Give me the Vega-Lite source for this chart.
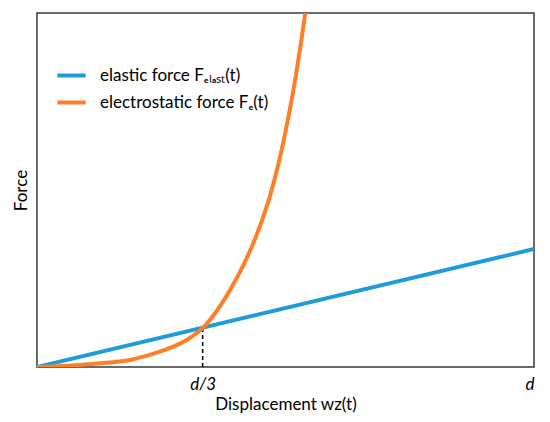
{
  "$schema": "https://vega.github.io/schema/vega-lite/v6.json",
  "width": 497,
  "height": 354,
  "autosize": "none",
  "padding": {"left": 37, "top": 13, "right": 16, "bottom": 55},
  "background": "white",
  "config": {
    "font": "Lato",
    "view": {"stroke": "#3a3a3a", "strokeWidth": 1.5}
  },
  "datasets": {
    "curves": [
      {"x": 0, "y": 0, "series": "elastic force Fₑₗₐₛₜ(t)"},
      {"x": 1, "y": 0.3333, "series": "elastic force Fₑₗₐₛₜ(t)"},
      {"x": 0, "y": 0, "series": "electrostatic force Fₑ(t)"},
      {"x": 0.052, "y": 0.003, "series": "electrostatic force Fₑ(t)"},
      {"x": 0.121, "y": 0.010, "series": "electrostatic force Fₑ(t)"},
      {"x": 0.187, "y": 0.020, "series": "electrostatic force Fₑ(t)"},
      {"x": 0.233, "y": 0.037, "series": "electrostatic force Fₑ(t)"},
      {"x": 0.268, "y": 0.054, "series": "electrostatic force Fₑ(t)"},
      {"x": 0.302, "y": 0.077, "series": "electrostatic force Fₑ(t)"},
      {"x": 0.334, "y": 0.111, "series": "electrostatic force Fₑ(t)"},
      {"x": 0.362, "y": 0.159, "series": "electrostatic force Fₑ(t)"},
      {"x": 0.388, "y": 0.216, "series": "electrostatic force Fₑ(t)"},
      {"x": 0.414, "y": 0.284, "series": "electrostatic force Fₑ(t)"},
      {"x": 0.435, "y": 0.349, "series": "electrostatic force Fₑ(t)"},
      {"x": 0.455, "y": 0.423, "series": "electrostatic force Fₑ(t)"},
      {"x": 0.470, "y": 0.489, "series": "electrostatic force Fₑ(t)"},
      {"x": 0.485, "y": 0.569, "series": "electrostatic force Fₑ(t)"},
      {"x": 0.500, "y": 0.664, "series": "electrostatic force Fₑ(t)"},
      {"x": 0.515, "y": 0.775, "series": "electrostatic force Fₑ(t)"},
      {"x": 0.530, "y": 0.905, "series": "electrostatic force Fₑ(t)"},
      {"x": 0.540, "y": 1.001, "series": "electrostatic force Fₑ(t)"},
      {"x": 0.545, "y": 1.05, "series": "electrostatic force Fₑ(t)"}
    ],
    "marker": [{"x": 0.3333, "y": 0, "y2": 0.1111}]
  },
  "layer": [
    {
      "data": {"name": "marker"},
      "mark": {"type": "rule", "color": "black", "strokeWidth": 1.5, "strokeDash": [4, 3]},
      "encoding": {
        "x": {"field": "x", "type": "quantitative", "scale": {"domain": [0, 1], "nice": false}},
        "y": {"field": "y", "type": "quantitative", "scale": {"domain": [0, 1], "nice": false}},
        "y2": {"field": "y2"}
      }
    },
    {
      "data": {"name": "curves"},
      "mark": {"type": "line", "strokeWidth": 4, "interpolate": "monotone", "clip": true},
      "encoding": {
        "x": {
          "field": "x", "type": "quantitative",
          "scale": {"domain": [0, 1], "nice": false},
          "axis": {
            "values": [0.3333, 1],
            "labelExpr": "datum.value > 0.9 ? 'd' : 'd/3'",
            "labelFontStyle": "italic",
            "labelFontSize": 17,
            "labelColor": "black",
            "labelPadding": 9,
            "ticks": false,
            "domain": false,
            "grid": false,
            "title": "Displacement wz(t)",
            "titleFontSize": 17,
            "titleFontWeight": "normal",
            "titleColor": "black",
            "titlePadding": 4
          }
        },
        "y": {
          "field": "y", "type": "quantitative",
          "scale": {"domain": [0, 1], "nice": false},
          "axis": {
            "labels": false,
            "ticks": false,
            "domain": false,
            "grid": false,
            "title": "Force",
            "titleFontSize": 17,
            "titleFontWeight": "normal",
            "titleColor": "black",
            "titlePadding": 7
          }
        },
        "color": {
          "field": "series", "type": "nominal",
          "scale": {
            "domain": ["elastic force Fₑₗₐₛₜ(t)", "electrostatic force Fₑ(t)"],
            "range": ["#1f9bd7", "#ff7f27"]
          },
          "legend": {
            "title": null,
            "orient": "none",
            "legendX": 18,
            "legendY": 46,
            "symbolType": "stroke",
            "symbolStrokeWidth": 4,
            "symbolSize": 800,
            "labelFontSize": 17,
            "labelColor": "black",
            "labelOffset": 12,
            "labelLimit": 400,
            "rowPadding": 2
          }
        }
      }
    }
  ]
}
